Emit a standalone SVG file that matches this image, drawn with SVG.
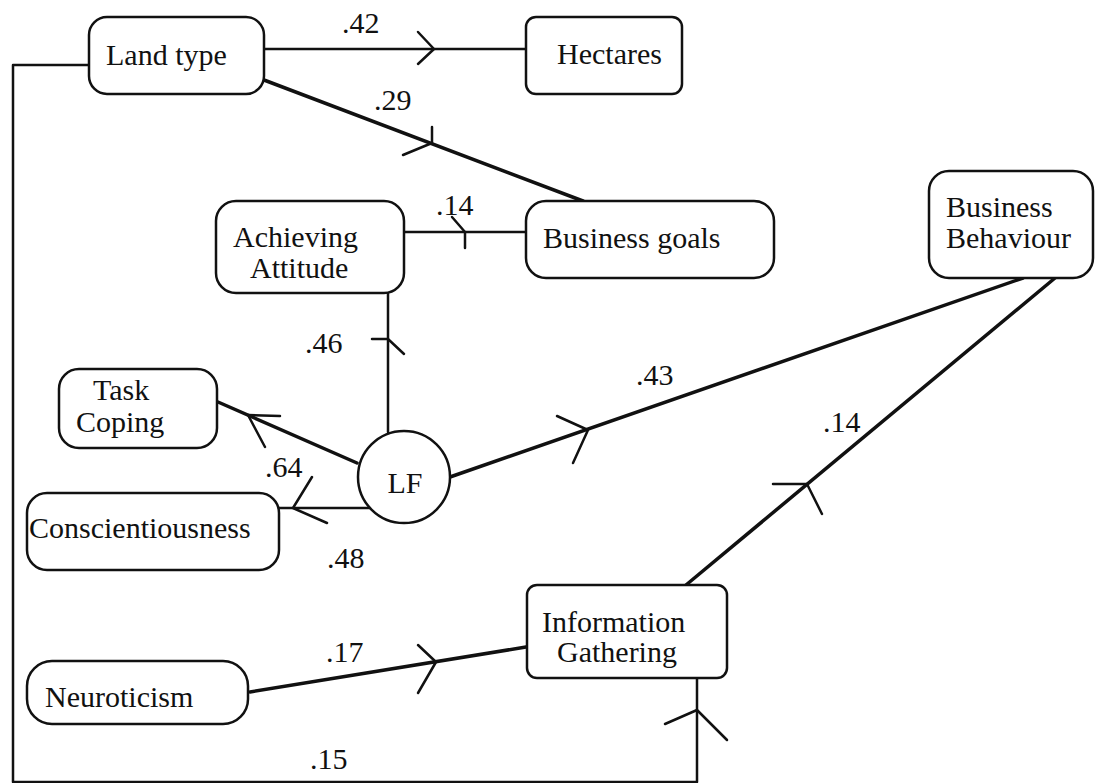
<svg xmlns="http://www.w3.org/2000/svg" width="1095" height="783" viewBox="0 0 1095 783">
  <style>
    .box { fill: #ffffff; stroke: #111111; stroke-width: 2.5; }
    .edge { fill: none; stroke: #111111; stroke-width: 2.5; stroke-linecap: round; stroke-linejoin: round; }
    .thick { stroke-width: 3.5; }
    .lbl { font-family: "Liberation Serif", "Times New Roman", serif; font-size: 30px; fill: #111111; }
  </style>
  <rect width="1095" height="783" fill="#ffffff"/>

  <!-- connectors with their hand-drawn arrow marks -->
  <g id="connectors">
    <line class="edge" x1="264" y1="49" x2="526" y2="49"/>
    <polyline class="edge" points="418,32 434,49 418,64"/>

    <line class="edge thick" x1="264" y1="80" x2="583" y2="201"/>
    <polyline class="edge" points="432,127 432,143 403,155"/>

    <line class="edge" x1="404" y1="232" x2="526" y2="232"/>
    <polyline class="edge" points="452,217 465,232 465,248"/>

    <line class="edge" x1="388" y1="432" x2="388" y2="293"/>
    <polyline class="edge" points="372,339 388,339 404,354"/>

    <line class="edge thick" x1="357" y1="463" x2="218" y2="402"/>
    <polyline class="edge" points="280,416 248,415 265,447"/>

    <line class="edge" x1="370" y1="508" x2="279" y2="508"/>
    <polyline class="edge" points="312,477 293,508 327,523"/>

    <line class="edge thick" x1="450" y1="477" x2="1023" y2="278"/>
    <polyline class="edge" points="557,416 588,430 573,463"/>

    <line class="edge thick" x1="686" y1="585" x2="1055" y2="278"/>
    <polyline class="edge" points="773,484 807,484 822,514"/>

    <line class="edge thick" x1="250" y1="692" x2="526" y2="647"/>
    <polyline class="edge" points="418,645 436,662 418,693"/>

    <polyline class="edge" points="89,65 13,65 13,782 697,782 697,678"/>
    <polyline class="edge" points="665,724 697,710 727,740"/>

    <text class="lbl" x="342" y="33">.42</text>
    <text class="lbl" x="374" y="110">.29</text>
    <text class="lbl" x="436" y="215">.14</text>
    <text class="lbl" x="305" y="353">.46</text>
    <text class="lbl" x="265" y="477">.64</text>
    <text class="lbl" x="327" y="568">.48</text>
    <text class="lbl" x="636" y="385">.43</text>
    <text class="lbl" x="823" y="432">.14</text>
    <text class="lbl" x="326" y="662">.17</text>
    <text class="lbl" x="310" y="769">.15</text>
  </g>

  <g id="land-type">
    <rect class="box" x="89" y="17" width="175" height="77" rx="18"/>
    <text class="lbl" x="106" y="65">Land type</text>
  </g>

  <g id="hectares">
    <rect class="box" x="526" y="17" width="156" height="77" rx="10"/>
    <text class="lbl" x="557" y="64">Hectares</text>
  </g>

  <g id="achieving-attitude">
    <rect class="box" x="216" y="201" width="188" height="92" rx="20"/>
    <text class="lbl" x="233" y="247">Achieving</text>
    <text class="lbl" x="250" y="278">Attitude</text>
  </g>

  <g id="business-goals">
    <rect class="box" x="526" y="201" width="248" height="77" rx="20"/>
    <text class="lbl" x="543" y="248">Business goals</text>
  </g>

  <g id="business-behaviour">
    <rect class="box" x="929" y="171" width="164" height="107" rx="20"/>
    <text class="lbl" x="946" y="217">Business</text>
    <text class="lbl" x="946" y="248">Behaviour</text>
  </g>

  <g id="task-coping">
    <rect class="box" x="59" y="369" width="158" height="79" rx="20"/>
    <text class="lbl" x="93" y="400">Task</text>
    <text class="lbl" x="76" y="432">Coping</text>
  </g>

  <g id="conscientiousness">
    <rect class="box" x="27" y="493" width="252" height="77" rx="20"/>
    <text class="lbl" x="29" y="538">Conscientiousness</text>
  </g>

  <g id="lf">
    <circle class="box" cx="404" cy="477" r="46"/>
    <text class="lbl" x="405" y="493" text-anchor="middle">LF</text>
  </g>

  <g id="information-gathering">
    <rect class="box" x="527" y="585" width="200" height="93" rx="10"/>
    <text class="lbl" x="542" y="632">Information</text>
    <text class="lbl" x="557" y="662">Gathering</text>
  </g>

  <g id="neuroticism">
    <rect class="box" x="27" y="661" width="221" height="63" rx="25"/>
    <text class="lbl" x="45" y="707">Neuroticism</text>
  </g>
</svg>
